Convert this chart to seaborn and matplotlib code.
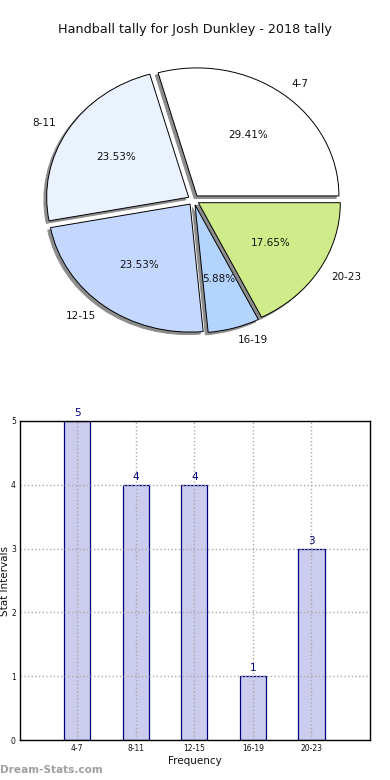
import matplotlib
matplotlib.use("Agg")
import matplotlib.pyplot as plt
import matplotlib.patches as mpatches
import seaborn as sns
import pandas as pd

categories = ["4-7", "8-11", "12-15", "16-19", "20-23"]
values = [5, 4, 4, 1, 3]
pie_colors = ["#ffffff", "#ebf2ff", "#c4d8ff", "#b3d4ff", "#cfeb8a"]
title = "Handball tally for Josh Dunkley - 2018 tally"

sns.set_theme(style="white")
plt.rcParams['font.family'] = ['DejaVu Sans']

fig = plt.figure(figsize=(3.9, 7.8), dpi=100)
fig.text(0.5, 1 - 30/780, title, ha="center", va="center", fontsize=9.2, color="#111111")

# Pie
axp = fig.add_axes([16/390, 1 - 360/780, 355/390, 320/780])
wedges, texts, autotexts = axp.pie(
    values, labels=categories, colors=pie_colors, autopct="%.2f%%",
    explode=[0.04] * len(values),
    shadow=dict(ox=-0.014, oy=-0.014, shade=0.55, alpha=1.0),
    startangle=0,
    wedgeprops=dict(edgecolor="black", linewidth=0.7),
    textprops=dict(fontsize=7.5, color="#111111"))
for p in axp.patches:
    if isinstance(p, mpatches.Shadow):
        p.set_facecolor("#8c8c8c")
        p.set_edgecolor("#8c8c8c")
axp.set_aspect("auto")
axp.set_xlim(-1.25, 1.25)
axp.set_ylim(-1.25, 1.25)

# Bar
axb = fig.add_axes([20/390, 40/780, 350/390, 319/780])
df = pd.DataFrame({"cat": categories, "val": values})
sns.barplot(data=df, x="cat", y="val", ax=axb, color="#ccccee",
            edgecolor="#000080", linewidth=0.9, width=0.45, saturation=1)
axb.set_xlim(-0.975, 5.0)
axb.set_ylim(0, 5)
axb.set_yticks(range(0, 6))
axb.grid(True, linestyle=":", color="#aaaaaa", linewidth=1)
axb.set_axisbelow(False)
for s in axb.spines.values():
    s.set_visible(True)
    s.set_color("black")
    s.set_linewidth(1)
    s.set_zorder(5)
axb.tick_params(axis="both", labelsize=5.5, length=3, color="#aaaaaa",
                direction="in", pad=3, labelcolor="#111111")
axb.set_xlabel("Frequency", fontsize=7.5, labelpad=2, color="#111111")
axb.set_ylabel("Stat Intervals", fontsize=7.5, labelpad=1, color="#111111")
for c in axb.containers:
    axb.bar_label(c, labels=[str(v) for v in values], color="#000080", fontsize=7.5, padding=2)

fig.text(0.0, 1 - 770/780, "Dream-Stats.com", ha="left", va="center",
         fontsize=7.6, color="#a0a0a0", fontweight="bold")

fig.savefig("out.png", dpi=100)
